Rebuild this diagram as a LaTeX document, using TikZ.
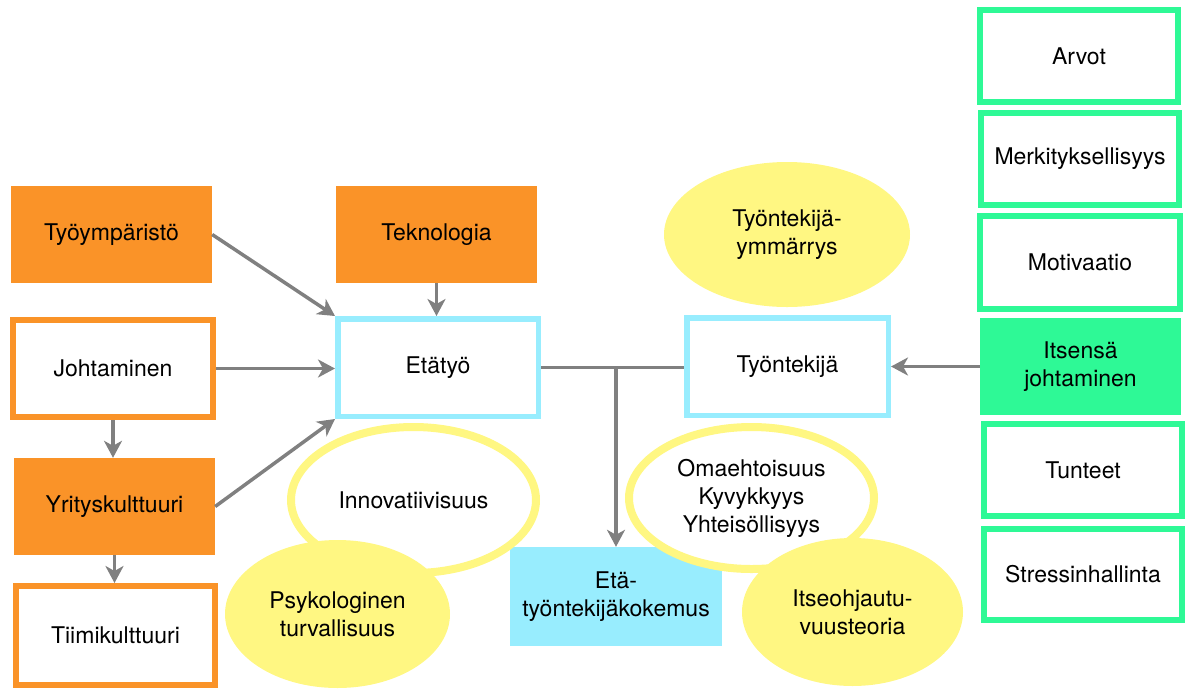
\documentclass[tikz,border=0pt]{standalone}
\usepackage{fontspec}
\setmainfont{TeX Gyre Heros}
\usetikzlibrary{arrows.meta,shapes.geometric}

\definecolor{orng}{RGB}{250,147,40}
\definecolor{cyn}{RGB}{152,237,254}
\definecolor{ylw}{RGB}{255,247,130}
\definecolor{grn}{RGB}{46,249,150}
\definecolor{gry}{RGB}{128,128,128}

\tikzset{
  lbl/.style={inner sep=0pt, align=center, font=\fontsize{23}{28}\selectfont},
  box/.style={lbl, rectangle},
  ofill/.style={box, fill=orng},
  oline/.style={box, draw=orng, line width=6pt, fill=white},
  cline/.style={box, draw=cyn, line width=5.5pt, fill=white},
  cfill/.style={box, fill=cyn},
  gline/.style={box, draw=grn, line width=6pt, fill=white},
  gfill/.style={box, fill=grn},
  yfill/.style={lbl, ellipse, fill=ylw},
  yline/.style={lbl, ellipse, draw=ylw, line width=8pt, fill=white},
  arr/.style={draw=gry, line width=3.5pt, -{Stealth[length=17pt,width=18pt,inset=5pt]}},
  link/.style={draw=gry, line width=3.5pt},
}

\begin{document}
\begin{tikzpicture}[x=1pt,y=-1pt]
\useasboundingbox (0,0) rectangle (1189,689);

% left column: organisation
\node[ofill, minimum width=201pt, minimum height=97pt] (tyoymp) at (111.5,234.5) {Työympäristö};
\node[oline, minimum width=200pt, minimum height=97pt] (johtam) at (113,368.5) {Johtaminen};
\node[ofill, minimum width=201pt, minimum height=97pt] (yrkult) at (114.5,506.5) {Yrityskulttuuri};
\node[oline, minimum width=199pt, minimum height=99pt] (tiimik) at (115.5,635.5) {Tiimikulttuuri};

% middle: remote work and employee
\node[ofill, minimum width=201pt, minimum height=97pt] (teknol) at (436.5,234.5) {Teknologia};
\node[cline, minimum width=200.5pt, minimum height=97.5pt] (etatyo) at (438,367.5) {Etätyö};
\node[cline, minimum width=201.5pt, minimum height=97.5pt] (tyont) at (787.5,366.5) {Työntekijä};
\node[cfill, minimum width=212pt, minimum height=99pt] (etakok) at (616,596.5) {Etä-\\työntekijäkokemus};

% yellow themes
\node[yfill, minimum width=246pt, minimum height=145pt] (ymmar) at (787,234.5) {Työntekijä-\\ymmärrys};
\node[yline, minimum width=245pt, minimum height=146pt] (innov) at (413.5,500) {Innovatiivisuus};
\node[yfill, minimum width=225pt, minimum height=148pt] (psyk) at (337.5,614) {Psykologinen\\turvallisuus};
\node[yline, minimum width=245pt, minimum height=142pt] (omaeh) at (751.5,498) {Omaehtoisuus\\Kyvykkyys\\Yhteisöllisyys};
\node[yfill, minimum width=221pt, minimum height=148pt] (itseoh) at (852.5,612) {Itseohjautu-\\vuusteoria};

% right column: self-leadership
\node[gline, minimum width=198pt, minimum height=92pt] (arvot) at (1079,56) {Arvot};
\node[gline, minimum width=198pt, minimum height=92pt] (merkit) at (1080,159) {Merkityksellisyys};
\node[gline, minimum width=200pt, minimum height=93pt] (motiv) at (1080,262.5) {Motivaatio};
\node[gfill, minimum width=201pt, minimum height=97pt] (itsens) at (1080.5,366.5) {Itsensä\\johtaminen};
\node[gline, minimum width=198pt, minimum height=92pt] (tunteet) at (1083,470) {Tunteet};
\node[gline, minimum width=198pt, minimum height=91pt] (stress) at (1083,574.5) {Stressinhallinta};

% connectors
\draw[arr] (tyoymp.east) -- (etatyo.north west);
\draw[arr] (johtam.east) -- (johtam.east -| etatyo.west);
\draw[arr] (yrkult.east) -- (etatyo.south west);
\draw[arr] (teknol.south) -- (teknol.south |- etatyo.north);
\draw[arr] (johtam.south) -- (johtam.south |- yrkult.north);
\draw[arr] (yrkult.south) -- (yrkult.south |- tiimik.north);
\draw[link] (etatyo.east) -- (etatyo.east -| tyont.west);
\coordinate (split) at (etatyo.east -| etakok.north);
\draw[arr] (split) -- (etakok.north);
\draw[arr] (itsens.west) -- (itsens.west -| tyont.east);
\end{tikzpicture}
\end{document}
